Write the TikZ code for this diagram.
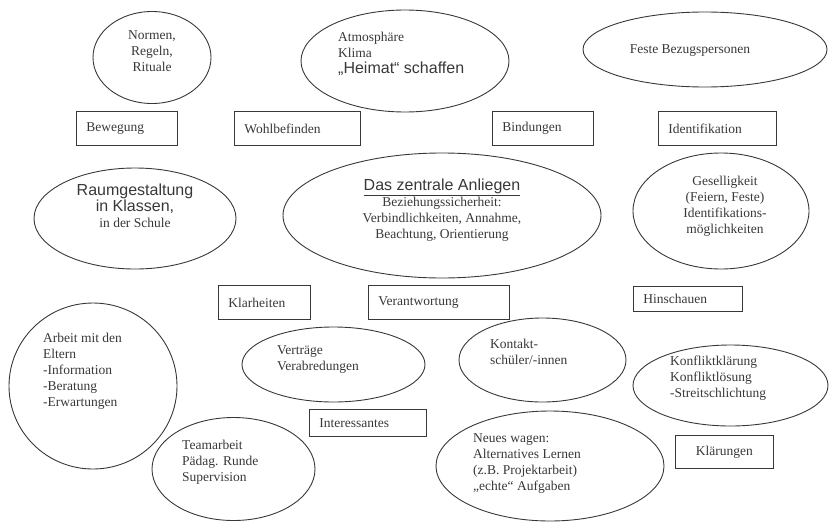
\documentclass[tikz,border=0pt]{standalone}
\usepackage{fontspec}
\setmainfont{Liberation Serif}
\setsansfont{Liberation Sans}
\usetikzlibrary{shapes.geometric}
\definecolor{ink}{gray}{0.22}
\newcommand{\sfbig}{\sffamily\fontsize{16}{18}\selectfont}
\begin{document}
\begin{tikzpicture}[x=1pt,y=-1pt,
  every node/.style={text=ink},
  ell/.style={draw=ink, line width=0.9pt, ellipse, inner sep=0pt},
  box/.style={draw=ink, line width=0.9pt, rectangle, anchor=north west, inner xsep=10pt, inner ysep=0pt, align=left, font=\fontsize{13.5}{16}\selectfont},
  txt/.style={inner sep=0pt, font=\fontsize{13.5}{16}\selectfont},
  lft/.style={txt, align=left, anchor=west},
  ctr/.style={txt, align=center, anchor=center}]
\useasboundingbox (0,0) rectangle (829,522);
% ellipses
\node[ell, minimum width=118pt, minimum height=92pt] (eNormen) at (152,57.5) {};
\node[ell, minimum width=208pt, minimum height=102pt] (eAtmo) at (405,61) {};
\node[ell, minimum width=244pt, minimum height=75pt] (eFeste) at (705,49.5) {};
\node[ell, minimum width=202pt, minimum height=101pt] (eRaum) at (135,218.5) {};
\node[ell, minimum width=318pt, minimum height=125pt] (eZentral) at (442,215.5) {};
\node[ell, minimum width=176pt, minimum height=116pt] (eGesellig) at (721,211) {};
\node[ell, minimum width=168pt, minimum height=166pt] (eArbeit) at (93,386) {};
\node[ell, minimum width=183pt, minimum height=75pt] (eVertrag) at (333.5,364.5) {};
\node[ell, minimum width=163pt, minimum height=103pt] (eTeam) at (233.5,469) {};
\node[ell, minimum width=167pt, minimum height=84pt] (eKontakt) at (542.5,360) {};
\node[ell, minimum width=195pt, minimum height=81pt] (eKonflikt) at (730.5,385.5) {};
\node[ell, minimum width=228pt, minimum height=110pt] (eNeues) at (550,466) {};
% boxes
\node[box, minimum width=101pt, minimum height=34pt, text width=81pt] (bBewegung) at (76,111) {Bewegung};
\node[box, minimum width=126pt, minimum height=34pt, text width=106pt] (bWohl) at (234,111) {Wohlbefinden};
\node[box, minimum width=101pt, minimum height=34pt, text width=81pt] (bBindung) at (492,111) {Bindungen};
\node[box, minimum width=118pt, minimum height=34pt, text width=98pt] (bIdent) at (658,111) {Identifikation};
\node[box, minimum width=92pt, minimum height=34pt, text width=72pt] (bKlar) at (218,285) {Klarheiten};
\node[box, minimum width=141pt, minimum height=34pt, text width=121pt] (bVerant) at (368,285) {Verantwortung};
\node[box, minimum width=109pt, minimum height=25pt, text width=89pt] (bHin) at (633,286) {Hinschauen};
\node[box, minimum width=117pt, minimum height=27pt, text width=97pt] (bInter) at (309,409) {Interessantes};
\node[box, minimum width=98pt, minimum height=33pt, text width=78pt, align=center] (bKlaerung) at (675,435) {Klärungen};
% texts
\node[ctr] (tNormen) at (152,51) {Normen,\\Regeln,\\Rituale};
\node[lft] (tAtmo) at (338,54) {Atmosphäre\\Klima\\{\sfbig „Heimat“ schaffen}};
\node[ctr] (tFeste) at (690,51) {Feste Bezugspersonen};
\node[ctr] (tRaum) at (135,206) {{\sfbig Raumgestaltung}\\{\sfbig in Klassen,}\\in der Schule};
\node[ctr] (tZentral) at (442,210) {{\sfbig\underline{Das zentrale Anliegen}}\\Beziehungssicherheit:\\Verbindlichkeiten, Annahme,\\Beachtung, Orientierung};
\node[ctr] (tGesellig) at (725,206) {Geselligkeit\\(Feiern, Feste)\\Identifikations-\\möglichkeiten};
\node[lft] (tArbeit) at (43,371) {Arbeit mit den\\Eltern\\-Information\\-Beratung\\-Erwartungen};
\node[lft] (tVertrag) at (277,359.5) {Verträge\\Verabredungen};
\node[lft] (tTeam) at (182,462.5) {Teamarbeit\\Pädag. Runde\\Supervision};
\node[lft] (tKontakt) at (490,351.5) {Kontakt-\\schüler/-innen};
\node[lft] (tKonflikt) at (670,378) {Konfliktklärung\\Konfliktlösung\\-Streitschlichtung};
\node[lft] (tNeues) at (473,464) {Neues wagen:\\Alternatives Lernen\\(z.B. Projektarbeit)\\„echte“ Aufgaben};
\end{tikzpicture}
\end{document}
